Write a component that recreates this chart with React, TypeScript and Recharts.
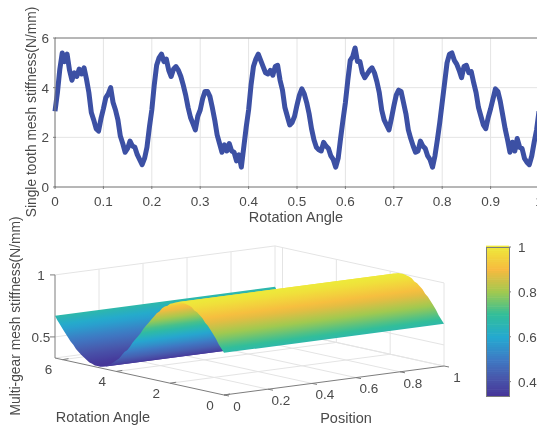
import {
  ComposedChart,
  CartesianGrid,
  Line,
  ReferenceDot,
  ReferenceLine,
  Scatter,
  XAxis,
  YAxis,
} from "recharts";

const FONT = "'Liberation Sans', Arial, sans-serif";
const TEXT = "#4a4a4a";
const AXIS = "#7d7d7d";
const GRID = "#e4e4e4";
const LINE = "#3c50a4";

// top panel
const stiffness = [
  3.05, 3.8, 4.75, 5.4, 5.05, 5.35, 4.7, 4.3, 4.6, 4.45, 4.75, 4.55, 4.8, 4.35, 3.8, 3.0, 2.7, 2.35, 2.25, 2.75,
  3.15, 3.6, 3.75, 4.0, 3.4, 3.1, 2.7, 2.05, 1.75, 1.4, 1.55, 1.85, 1.65, 1.6, 1.3, 1.1, 0.9, 1.15, 1.6, 2.4,
  3.1, 4.1, 4.9, 5.2, 5.35, 5.05, 5.15, 4.7, 4.45, 4.75, 4.85, 4.7, 4.45, 4.1, 3.7, 3.2, 2.8, 2.55, 2.3, 2.85,
  3.1, 3.55, 3.85, 3.85, 3.65, 3.2, 2.7, 2.1, 1.75, 1.4, 1.7, 1.45, 1.75, 1.45, 1.4, 1.05, 1.3, 0.8, 1.6, 2.4,
  3.1, 4.1, 4.85, 5.15, 5.35, 5.1, 4.85, 4.6, 4.55, 4.7, 4.5, 4.85, 4.9, 4.3, 3.9, 3.2, 2.85, 2.5, 2.6, 2.85,
  3.3, 3.7, 3.95, 3.75, 3.4, 2.95, 2.35, 1.9, 1.6, 1.5, 1.45, 1.8, 1.65, 1.55, 1.25, 1.1, 0.8, 1.15, 1.95, 2.7,
  3.4, 4.3, 5.1, 5.25, 5.6, 5.05, 5.05, 4.6, 4.4, 4.55, 4.7, 4.8, 4.6, 4.25, 3.8, 3.1, 2.7, 2.5, 2.3, 2.75,
  3.25, 3.7, 3.9, 3.85, 3.4, 2.95, 2.3, 1.95, 1.65, 1.4, 1.45, 1.85, 1.65, 1.55, 1.25, 1.1, 0.8, 1.25, 1.9, 2.6,
  3.4, 4.2, 5.0, 5.35, 5.4, 5.1, 4.95, 4.7, 4.4, 4.85, 4.9, 4.6, 4.65, 4.2, 3.8, 3.2, 2.85, 2.5, 2.35, 2.8,
  3.15, 3.55, 3.95, 3.85, 3.45, 2.9, 2.35, 1.9, 1.4, 1.8, 1.45, 1.95, 1.6, 1.55, 1.15, 1.0, 0.9, 1.25, 1.8, 2.3,
  3.05,
];
const angleTicksTop = [0, 0.1, 0.2, 0.3, 0.4, 0.5, 0.6, 0.7, 0.8, 0.9, 1];
const stiffnessTicks = [0, 2, 4, 6];
const topRows = stiffness.map((value, i) => ({ angle: i * 0.005, value }));

// bottom panel, the profile is the same along the whole position axis
const surfaceAngles = [
  0, 0.1, 0.2, 0.3, 0.4, 0.5, 0.6, 0.7, 0.8, 0.9, 1, 1.1, 1.2, 1.3, 1.4, 1.5, 1.6, 1.7, 1.8, 1.9, 2, 2.1, 2.2, 2.3,
  2.4, 2.5, 2.6, 2.7, 2.8, 2.9, 3, 3.1, 3.2, 3.3, 3.4, 3.5, 3.6, 3.7, 3.8, 3.9, 4, 4.1, 4.2, 4.3, 4.4, 4.5, 4.6, 4.7,
  4.8, 4.9, 5, 5.1, 5.2, 5.3, 5.4, 5.5, 5.6, 5.7, 5.8, 5.9, 6, 6.1, 6.2, 6.28,
];
const surfaceHeights = [
  0.67, 0.7, 0.73, 0.77, 0.8, 0.83, 0.86, 0.88, 0.91, 0.93, 0.95, 0.96, 0.98, 0.99, 0.995, 1, 1, 1, 0.99, 0.98, 0.97,
  0.95, 0.94, 0.92, 0.89, 0.87, 0.84, 0.81, 0.78, 0.75, 0.72, 0.68, 0.65, 0.62, 0.59, 0.55, 0.52, 0.5, 0.47, 0.44,
  0.42, 0.4, 0.38, 0.37, 0.35, 0.345, 0.34, 0.34, 0.34, 0.35, 0.355, 0.37, 0.385, 0.4, 0.42, 0.44, 0.47, 0.49, 0.52,
  0.55, 0.58, 0.61, 0.64, 0.67,
];
const positionTicks = [0, 0.2, 0.4, 0.6, 0.8, 1];
const angleTicks3d = [0, 2, 4, 6];
const heightTicks = [0.5, 1];
const colorbarTicks = [0.4, 0.6, 0.8, 1];

const Z_MIN = 0.33;
const Z_MAX = 1;
const ANGLE_MAX = 6.28;
const CBAR_MIN = 0.336;

// colorbar colours
const colorStops: [number, number[]][] = [
  [0.336, [70, 52, 152]],
  [0.42, [72, 88, 172]],
  [0.5, [62, 122, 196]],
  [0.6, [36, 169, 208]],
  [0.7, [50, 190, 154]],
  [0.8, [160, 201, 80]],
  [0.9, [247, 186, 63]],
  [1, [238, 232, 58]],
];

const colorFor = (z: number) => {
  for (let i = 1; i < colorStops.length; i++) {
    const [z1, c1] = colorStops[i];
    const [z0, c0] = colorStops[i - 1];
    if (z <= z1) {
      const t = Math.max(0, (z - z0) / (z1 - z0));
      return `rgb(${c0.map((c, k) => Math.round(c + (c1[k] - c) * t)).join(",")})`;
    }
  }
  return "rgb(238,232,58)";
};

// orthographic view of the box, in page pixels
const project = (position: number, angle: number, z: number) => ({
  x: 224 + position * 220 - (angle / ANGLE_MAX) * 169,
  y: 395 - position * 29 - (angle / ANGLE_MAX) * 37 - (z - Z_MIN) * 124,
});

// unit normal of the position direction on screen: colour bands run along the position axis
const EDGE_LEN = Math.hypot(220, 29);
const NX = 29 / EDGE_LEN;
const NY = 220 / EDGE_LEN;

const profile = surfaceAngles.map((angle, i) => {
  const p = project(0, angle, surfaceHeights[i]);
  return { angle, z: surfaceHeights[i], p, g: p.x * NX + p.y * NY };
});

// split the profile where it folds on screen, each face is one smooth polygon
const buildFaces = () => {
  const faces: (typeof profile)[] = [];
  let run = [profile[0]];
  let dir = 0;
  for (let i = 1; i < profile.length; i++) {
    const step = Math.sign(profile[i].g - profile[i - 1].g);
    if (dir !== 0 && step !== 0 && step !== dir) {
      faces.push(run);
      run = [profile[i - 1]];
      dir = 0;
    }
    if (step !== 0) dir = step;
    run.push(profile[i]);
  }
  faces.push(run);
  return faces;
};

const faceRows = buildFaces()
  .map((run, id) => {
    const near = run.map((r) => r.p);
    const far = run.map((r) => project(1, r.angle, r.z)).reverse();
    const gStart = run[0].g;
    const gEnd = run[run.length - 1].g;
    return {
      id,
      x: near[0].x,
      y: near[0].y,
      corners: [...near, ...far],
      sweep: gEnd - gStart,
      stops: run.map((r) => ({ offset: (r.g - gStart) / (gEnd - gStart), color: colorFor(r.z) })),
    };
  })
  .reverse();

const renderFace = (props: any) => {
  const { cx, cy, payload } = props;
  const points = payload.corners
    .map((c: { x: number; y: number }) => `${c.x - payload.x + cx},${c.y - payload.y + cy}`)
    .join(" ");
  const gradId = `face${payload.id}`;
  return (
    <g>
      <defs>
        <linearGradient
          id={gradId}
          gradientUnits="userSpaceOnUse"
          x1={cx}
          y1={cy}
          x2={cx + NX * payload.sweep}
          y2={cy + NY * payload.sweep}
        >
          {payload.stops.map((s: { offset: number; color: string }, i: number) => (
            <stop key={i} offset={s.offset} stopColor={s.color} />
          ))}
        </linearGradient>
      </defs>
      <polygon points={points} fill={`url(#${gradId})`} />
    </g>
  );
};

const gridSegments = [
  ...positionTicks.slice(1).flatMap((p) => [
    [project(p, 0, Z_MIN), project(p, ANGLE_MAX, Z_MIN)],
    [project(p, ANGLE_MAX, Z_MIN), project(p, ANGLE_MAX, Z_MAX)],
  ]),
  ...angleTicks3d.slice(1).flatMap((a) => [
    [project(0, a, Z_MIN), project(1, a, Z_MIN)],
    [project(1, a, Z_MIN), project(1, a, Z_MAX)],
  ]),
  ...heightTicks.flatMap((z) => [
    [project(0, ANGLE_MAX, z), project(1, ANGLE_MAX, z)],
    [project(1, ANGLE_MAX, z), project(1, 0, z)],
  ]),
  [project(0, ANGLE_MAX, Z_MIN), project(1, ANGLE_MAX, Z_MIN)],
  [project(1, ANGLE_MAX, Z_MIN), project(1, 0, Z_MIN)],
  [project(1, 0, Z_MIN), project(1, 0, Z_MAX)],
];

const shift = (p: { x: number; y: number }, dx: number, dy: number) => ({ x: p.x + dx, y: p.y + dy });

const axisSegments = [
  [project(0, 0, Z_MIN), project(1, 0, Z_MIN)],
  [project(0, 0, Z_MIN), project(0, ANGLE_MAX, Z_MIN)],
  [project(0, ANGLE_MAX, Z_MIN), project(0, ANGLE_MAX, Z_MAX)],
  ...positionTicks.map((p) => [project(p, 0, Z_MIN), shift(project(p, 0, Z_MIN), 5, 1)]),
  ...angleTicks3d.map((a) => [project(0, a, Z_MIN), shift(project(0, a, Z_MIN), 6, -1)]),
  ...heightTicks.map((z) => [project(0, ANGLE_MAX, z), shift(project(0, ANGLE_MAX, z), -5, 0)]),
];

const tickText = { fontFamily: FONT, fontSize: 13.5, fill: TEXT };

const XTickTop = ({ x, y, payload }: any) => (
  <g>
    <line x1={x} x2={x} y1={y} y2={y - 3} stroke={AXIS} />
    <text x={x} y={y + 17} textAnchor="middle" {...tickText}>
      {payload.value}
    </text>
  </g>
);

const YTickTop = ({ x, y, payload }: any) => (
  <g>
    <line x1={x} x2={x + 3} y1={y} y2={y} stroke={AXIS} />
    <text x={x - 4} y={y + 5} textAnchor="end" {...tickText}>
      {payload.value}
    </text>
  </g>
);

const ColorbarTick = ({ x, y, payload }: any) => (
  <g>
    <line x1={x - 2} x2={x} y1={y} y2={y} stroke={AXIS} />
    <text x={x + 7} y={y + 5} {...tickText}>
      {payload.value}
    </text>
  </g>
);

const label = (value: string | number) => ({
  value,
  position: "center" as const,
  style: tickText,
});

const titleText = { fontFamily: FONT, fontSize: 14.5, fill: TEXT };
const sideTitleText = { fontFamily: FONT, fontSize: 13.8, fill: TEXT };

// one band per hundredth of the colour range, drawn top to bottom
const colorbarRows = Array.from({ length: 67 }, (_, i) => ({ x: 0.5, z: CBAR_MIN + i * 0.01 })).filter((r) => r.z < 1);

const BAND_HEIGHT = (149 / (1 - CBAR_MIN)) * 0.01;

const renderBand = (props: any) => {
  const { cx, cy, payload } = props;
  return (
    <rect
      x={cx - 11.5}
      y={cy - BAND_HEIGHT}
      width={23}
      height={BAND_HEIGHT + 0.6}
      fill={colorFor(payload.z + 0.005)}
    />
  );
};

export default function App() {
  return (
    <div
      style={{
        position: "absolute",
        left: 0,
        top: 0,
        width: 537,
        height: 427,
        overflow: "hidden",
        background: "#fff",
        filter: "blur(0.5px)",
      }}
    >
      <div style={{ position: "absolute", left: 0, top: 0 }}>
        <ComposedChart
          width={560}
          height={235}
          data={topRows}
          margin={{ top: 38, right: 21, bottom: 8, left: 8 }}
        >
          <CartesianGrid stroke={GRID} />
          <XAxis
            dataKey="angle"
            type="number"
            domain={[0, 1]}
            ticks={angleTicksTop}
            interval={0}
            height={40}
            stroke={AXIS}
            tickLine={false}
            tickSize={0}
            tick={XTickTop}
          />
          <YAxis
            type="number"
            domain={[0, 6]}
            ticks={stiffnessTicks}
            interval={0}
            width={47}
            stroke={AXIS}
            tickLine={false}
            tickSize={0}
            tick={YTickTop}
          />
          <ReferenceLine y={6} stroke={AXIS} />
          <ReferenceLine x={1} stroke={AXIS} />
          <Line
            dataKey="value"
            stroke={LINE}
            strokeWidth={5}
            strokeLinejoin="round"
            dot={false}
            type="linear"
            isAnimationActive={false}
          />
          <text x={296} y={222} textAnchor="middle" {...titleText}>
            Rotation Angle
          </text>
          <text transform="translate(36,112) rotate(-90)" textAnchor="middle" {...sideTitleText}>
            Single tooth mesh stiffness(N/mm)
          </text>
        </ComposedChart>
      </div>

      <div style={{ position: "absolute", left: 0, top: 207 }}>
        <ComposedChart width={480} height={220} margin={{ top: 0, right: 0, bottom: 0, left: 0 }}>
          <XAxis type="number" dataKey="x" domain={[0, 480]} hide />
          <YAxis type="number" dataKey="y" domain={[207, 427]} reversed hide />
          {gridSegments.map((s, i) => (
            <ReferenceLine key={`g${i}`} segment={s} stroke={GRID} ifOverflow="visible" />
          ))}
          {axisSegments.map((s, i) => (
            <ReferenceLine key={`a${i}`} segment={s} stroke={AXIS} ifOverflow="visible" />
          ))}
          <Scatter data={faceRows} shape={renderFace} isAnimationActive={false} />
          {heightTicks.map((z) => {
            const p = project(0, ANGLE_MAX, z);
            return <ReferenceDot key={`z${z}`} x={p.x - 14} y={p.y} r={0} stroke="none" label={label(z)} />;
          })}
          {angleTicks3d.map((a) => {
            const p = project(0, a, Z_MIN);
            return <ReferenceDot key={`t${a}`} x={p.x - 14} y={p.y + 10} r={0} stroke="none" label={label(a)} />;
          })}
          {positionTicks.map((v) => {
            const p = project(v, 0, Z_MIN);
            return <ReferenceDot key={`p${v}`} x={p.x + 13} y={p.y + 11} r={0} stroke="none" label={label(v)} />;
          })}
          <text x={103} y={215} textAnchor="middle" {...titleText}>
            Rotation Angle
          </text>
          <text x={346} y={216} textAnchor="middle" {...titleText}>
            Position
          </text>
          <text transform="translate(20,109) rotate(-90)" textAnchor="middle" {...sideTitleText}>
            Multi-gear mesh stiffness(N/mm)
          </text>
        </ComposedChart>
      </div>

      <div style={{ position: "absolute", left: 486, top: 240 }}>
        <ComposedChart width={51} height={170} margin={{ top: 7, right: 0, bottom: 14, left: 0 }}>
          <XAxis type="number" dataKey="x" domain={[0, 1]} hide />
          <YAxis
            type="number"
            dataKey="z"
            orientation="right"
            domain={[CBAR_MIN, 1]}
            ticks={colorbarTicks}
            interval={0}
            width={28}
            axisLine={false}
            tickLine={false}
            tickSize={0}
            tick={ColorbarTick}
          />
          <Scatter data={colorbarRows} shape={renderBand} isAnimationActive={false} />
        </ComposedChart>
      </div>
      <div
        style={{
          position: "absolute",
          left: 486,
          top: 247,
          width: 22,
          height: 148,
          border: `1px solid ${AXIS}`,
        }}
      />
    </div>
  );
}
